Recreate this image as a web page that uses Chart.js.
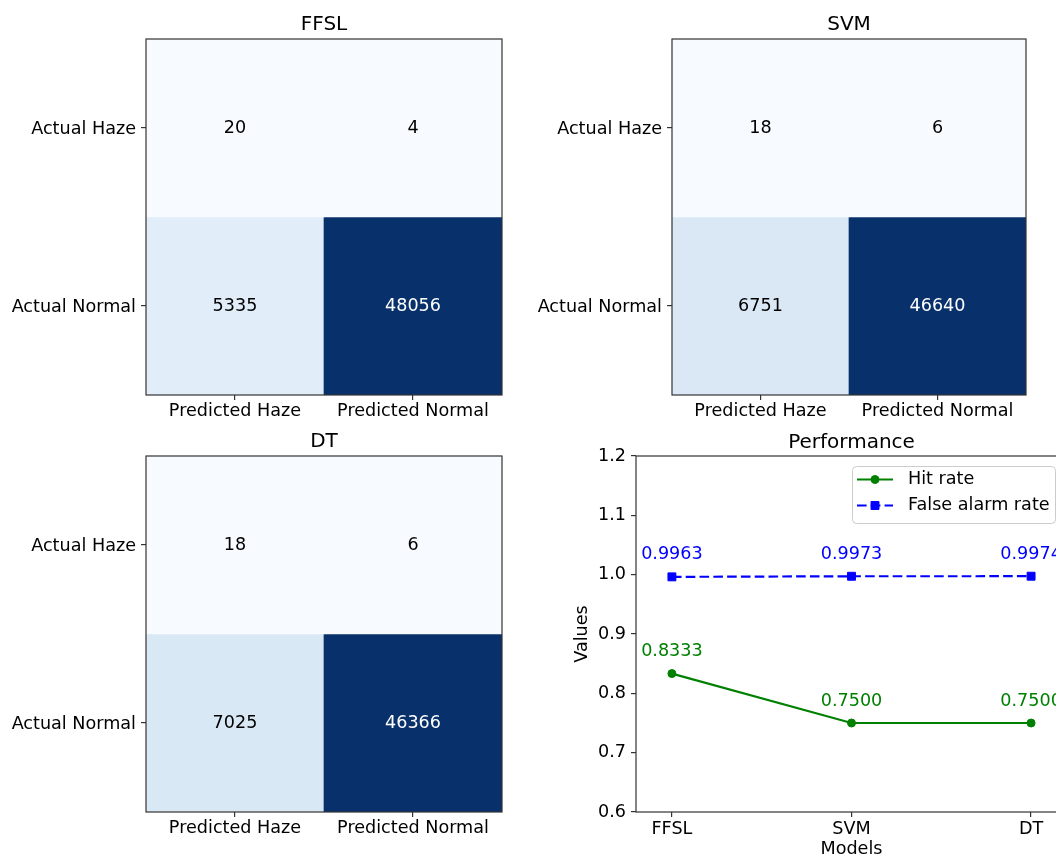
<!DOCTYPE html>
<html>
<head>
<meta charset="utf-8">
<script src="https://cdn.jsdelivr.net/npm/chart.js"></script>
<style>
  html, body { margin: 0; padding: 0; background: #fff; }
  body { position: relative; width: 1056px; height: 857px; overflow: hidden; }
  canvas { position: absolute; }
</style>
</head>
<body>
<canvas id="cmFFSL"></canvas>
<canvas id="cmSVM"></canvas>
<canvas id="cmDT"></canvas>
<canvas id="perf"></canvas>
<script>
// Confusion-matrix axis labels
const actualLabels = ['Actual Haze', 'Actual Normal'];
const predictedLabels = ['Predicted Haze', 'Predicted Normal'];

// Confusion matrices: rows = actual class, columns = predicted class
const ffslCounts = [[20, 4], [5335, 48056]];
const svmCounts = [[18, 6], [6751, 46640]];
const dtCounts = [[18, 6], [7025, 46366]];

// Summary metrics per model
const models = ['FFSL', 'SVM', 'DT'];
const hitRate = [0.8333, 0.7500, 0.7500];
const falseAlarmRate = [0.9963, 0.9973, 0.9974];
const perfTicks = [0.6, 0.7, 0.8, 0.9, 1.0, 1.1, 1.2];

const FONT = '"DejaVu Sans", sans-serif';
const FS = 17.6;
Chart.defaults.font.family = FONT;
Chart.defaults.font.size = FS;
Chart.defaults.color = '#000';

// Sequential "Blues" colour ramp
const BLUES = [[247,251,255],[222,235,247],[198,219,239],[158,202,225],[107,174,214],
               [66,146,198],[33,113,181],[8,81,156],[8,48,107]];
function blues(t) {
  t = Math.max(0, Math.min(1, t));
  const s = t * (BLUES.length - 1);
  const i = Math.min(Math.floor(s), BLUES.length - 2);
  const f = s - i;
  const c = BLUES[i].map((v, k) => Math.round(v + (BLUES[i + 1][k] - v) * f));
  return `rgb(${c[0]},${c[1]},${c[2]})`;
}

// Axes frame drawn on all four sides of the plotting area
const frame = {
  id: 'frame',
  afterDatasetsDraw(chart) {
    const a = chart.chartArea, ctx = chart.ctx;
    ctx.save();
    ctx.strokeStyle = '#333';
    ctx.lineWidth = 1.2;
    ctx.strokeRect(a.left, a.top, a.right - a.left, a.bottom - a.top);
    ctx.restore();
  }
};

// Count written in the middle of each matrix cell
const cellText = {
  id: 'cellText',
  afterDatasetsDraw(chart) {
    const ctx = chart.ctx;
    ctx.save();
    ctx.font = `${FS}px ${FONT}`;
    ctx.textAlign = 'center';
    ctx.textBaseline = 'middle';
    chart.data.datasets.forEach((ds, r) => {
      chart.getDatasetMeta(r).data.forEach((bar, c) => {
        const p = bar.getCenterPoint();
        ctx.fillStyle = ds.textColors[c];
        ctx.fillText(String(ds.counts[c]), p.x, p.y);
      });
    });
    ctx.restore();
  }
};

const tickGrid = { drawOnChartArea: false, tickLength: 5, color: '#333', lineWidth: 1.2 };

function heatmap(id, title, counts, area) {
  const flat = counts.flat();
  const lo = Math.min(...flat), hi = Math.max(...flat);
  const canvas = document.getElementById(id);
  const left = area.left - 146, top = area.top - 39;
  canvas.width = area.right - left + 18;
  canvas.height = area.bottom - top + 35;
  canvas.style.left = left + 'px';
  canvas.style.top = top + 'px';
  new Chart(canvas, {
    type: 'bar',
    data: {
      labels: predictedLabels,
      datasets: counts.map((row, r) => ({
        label: actualLabels[r],
        data: row.map(() => 1),
        counts: row,
        backgroundColor: row.map(v => blues((v - lo) / (hi - lo))),
        textColors: row.map(v => (v > (hi + lo) / 2 ? '#fff' : '#000')),
        borderWidth: 0,
        barPercentage: 1,
        categoryPercentage: 1
      }))
    },
    options: {
      responsive: false,
      animation: false,
      events: [],
      layout: { padding: { left: 0, right: 18, top: 0, bottom: 0 } },
      plugins: {
        legend: { display: false },
        tooltip: { enabled: false },
        title: {
          display: true, text: title, fullSize: false, color: '#000',
          font: { size: 20, weight: 'normal' },
          padding: { top: 13, bottom: 2 }
        }
      },
      scales: {
        x: {
          stacked: true,
          grid: Object.assign({ offset: false }, tickGrid),
          border: { display: false },
          ticks: { padding: 1, color: '#000' },
          afterFit: s => { s.height = 35; }
        },
        y: {
          stacked: true,
          reverse: true,
          min: 0,
          max: counts.length,
          afterBuildTicks: s => { s.ticks = actualLabels.map((_, i) => ({ value: i + 0.5 })); },
          grid: tickGrid,
          border: { display: false },
          ticks: { padding: 5, labelOffset: 1, color: '#000', callback: v => actualLabels[Math.floor(v)] },
          afterFit: s => { s.width = 146; }
        }
      }
    },
    plugins: [cellText, frame]
  });
}

heatmap('cmFFSL', 'FFSL', ffslCounts, { left: 146, top: 39, right: 502, bottom: 395 });
heatmap('cmSVM', 'SVM', svmCounts, { left: 672, top: 39, right: 1026, bottom: 395 });
heatmap('cmDT', 'DT', dtCounts, { left: 146, top: 456, right: 502, bottom: 812 });

// Value annotations above every point of the performance lines
const valueLabels = {
  id: 'valueLabels',
  afterDatasetsDraw(chart) {
    const ctx = chart.ctx;
    ctx.save();
    ctx.font = `${FS}px ${FONT}`;
    ctx.textAlign = 'center';
    ctx.textBaseline = 'middle';
    chart.data.datasets.forEach((ds, d) => {
      ctx.fillStyle = ds.borderColor;
      chart.getDatasetMeta(d).data.forEach((pt, i) => {
        ctx.fillText(ds.data[i].y.toFixed(4), pt.x, pt.y - 22);
      });
    });
    ctx.restore();
  }
};

function drawMarker(ctx, style, r, x, y, color) {
  ctx.fillStyle = color;
  ctx.strokeStyle = color;
  ctx.lineWidth = 1;
  ctx.beginPath();
  if (style === 'rect') {
    const h = r * Math.SQRT1_2;
    ctx.rect(x - h, y - h, 2 * h, 2 * h);
  } else {
    ctx.arc(x, y, r, 0, Math.PI * 2);
  }
  ctx.fill();
  ctx.stroke();
}

// Legend box with line-and-marker samples
const legendBox = {
  id: 'legendBox',
  afterDraw(chart) {
    const a = chart.chartArea, ctx = chart.ctx;
    const bx = a.left + 216, by = a.top + 10, bw = 203, bh = 57;
    ctx.save();
    ctx.beginPath();
    ctx.roundRect(bx + 0.5, by + 0.5, bw, bh, 4);
    ctx.fillStyle = 'rgba(255,255,255,0.85)';
    ctx.fill();
    ctx.strokeStyle = '#cccccc';
    ctx.lineWidth = 1;
    ctx.stroke();
    ctx.font = `${FS}px ${FONT}`;
    ctx.textAlign = 'left';
    ctx.textBaseline = 'middle';
    chart.data.datasets.forEach((ds, i) => {
      const y = by + 13.5 + i * 26;
      const x0 = bx + 5, x1 = bx + 41;
      ctx.strokeStyle = ds.borderColor;
      ctx.lineWidth = ds.borderWidth;
      ctx.setLineDash(ds.borderDash || []);
      ctx.beginPath();
      ctx.moveTo(x0, y);
      ctx.lineTo(x1, y);
      ctx.stroke();
      ctx.setLineDash([]);
      drawMarker(ctx, ds.pointStyle, ds.pointRadius, (x0 + x1) / 2, y, ds.borderColor);
      ctx.fillStyle = '#000';
      ctx.fillText(ds.label, bx + 56, y);
    });
    ctx.restore();
  }
};

const perfCanvas = document.getElementById('perf');
perfCanvas.width = 547;
perfCanvas.height = 440;
perfCanvas.style.left = '530px';
perfCanvas.style.top = '430px';

new Chart(perfCanvas, {
  type: 'line',
  data: {
    datasets: [
      {
        label: 'Hit rate',
        data: hitRate.map((v, i) => ({ x: i, y: v })),
        borderColor: '#008000',
        backgroundColor: '#008000',
        borderWidth: 2.2,
        pointStyle: 'circle',
        pointRadius: 4,
        pointBorderWidth: 1,
        pointBackgroundColor: '#008000',
        pointBorderColor: '#008000',
        tension: 0,
        fill: false
      },
      {
        label: 'False alarm rate',
        data: falseAlarmRate.map((v, i) => ({ x: i, y: v })),
        borderColor: '#0000ff',
        backgroundColor: '#0000ff',
        borderWidth: 2.2,
        borderDash: [9.6, 4.2],
        pointStyle: 'rect',
        pointRadius: 5.6,
        pointBorderWidth: 1,
        pointBackgroundColor: '#0000ff',
        pointBorderColor: '#0000ff',
        tension: 0,
        fill: false
      }
    ]
  },
  options: {
    responsive: false,
    animation: false,
    events: [],
    layout: { padding: { left: 0, right: 10, top: 0, bottom: 0 } },
    plugins: {
      legend: { display: false },
      tooltip: { enabled: false },
      title: {
        display: true, text: 'Performance', fullSize: false, color: '#000',
        font: { size: 20, weight: 'normal' },
        padding: { top: 1, bottom: 1 }
      }
    },
    scales: {
      x: {
        type: 'linear',
        min: -0.2,
        max: 2.2,
        afterBuildTicks: s => { s.ticks = models.map((_, i) => ({ value: i })); },
        grid: tickGrid,
        border: { display: false },
        ticks: { padding: 2, color: '#000', callback: v => models[v] },
        title: { display: true, text: 'Models', color: '#000', padding: { top: 0, bottom: 10 } },
        afterFit: s => { s.height = 58; }
      },
      y: {
        min: 0.6,
        max: 1.2,
        afterBuildTicks: s => { s.ticks = perfTicks.map(v => ({ value: v })); },
        grid: tickGrid,
        border: { display: false },
        ticks: { padding: 5, color: '#000', callback: v => Number(v).toFixed(1) },
        title: { display: true, text: 'Values', color: '#000', padding: { top: 42, bottom: 0 } },
        afterFit: s => { s.width = 106; }
      }
    }
  },
  plugins: [frame, valueLabels, legendBox]
});
</script>
</body>
</html>
